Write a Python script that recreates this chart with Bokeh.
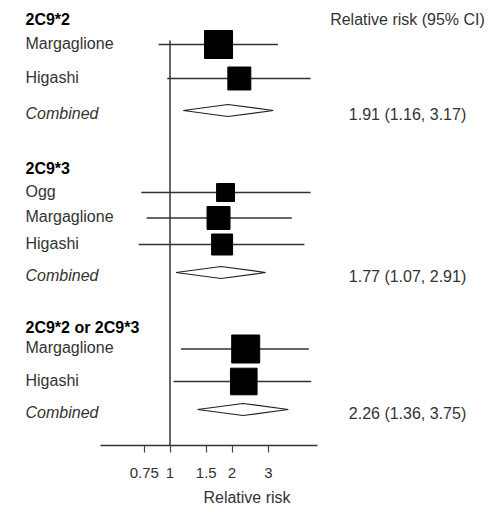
import math
from bokeh.plotting import figure
from bokeh.models import Range1d, LogScale, LogAxis, FixedTicker, ColumnDataSource
from bokeh.core.properties import value
from bokeh.embed import file_html
from bokeh.resources import INLINE

# ---------------- data ----------------
group_names = ["2C9*2", "2C9*3", "2C9*2 or 2C9*3"]
study_group = [0, 0, 1, 1, 1, 2, 2]
study_names = ["Margaglione", "Higashi", "Ogg", "Margaglione", "Higashi", "Margaglione", "Higashi"]
study_rr = [1.72, 2.17, 1.86, 1.72, 1.79, 2.33, 2.28]
study_lo = [0.88, 0.97, 0.725, 0.77, 0.705, 1.13, 1.04]
study_hi = [3.34, 4.81, 4.81, 3.90, 4.49, 4.72, 4.84]
study_weight = [1.0, 0.82, 0.64, 0.82, 0.75, 1.0, 0.95]
combined_rr = [1.91, 1.77, 2.26]
combined_lo = [1.16, 1.07, 1.36]
combined_hi = [3.17, 2.91, 3.75]
tick_values = [0.75, 1, 1.5, 2, 3]
tick_labels = ["0.75", "1", "1.5", "2", "3"]
axis_bounds = [0.46, 5.2]

# ---------------- layout ----------------
W, H = 493, 512
FRAME_H = 445
BOTTOM = H - FRAME_H
ONE_PX = 169.5          # frame x of RR = 1
PX_PER_LN = 89.5        # pixels per natural-log unit
rr_start = math.exp(-ONE_PX / PX_PER_LN)
rr_end = math.exp((W - ONE_PX) / PX_PER_LN)

header_y = [19, 168, 327]
study_y = [44, 78, 192, 217.5, 244, 348.5, 381]
combined_y = [110, 272, 409]
LABEL_X = 25
RIGHT_X = 407
BOX = 28
DIAMOND_HALF = 6
FONT = value("Liberation Sans")
FS = "16px"

p = figure(width=W, height=H, output_backend="svg", toolbar_location=None,
           x_range=Range1d(0, W), y_range=Range1d(FRAME_H, 0),
           x_axis_location=None, y_axis_location=None,
           min_border=0, min_border_bottom=BOTTOM)
p.extra_x_ranges = {"rr": Range1d(rr_start, rr_end)}
p.extra_x_scales = {"rr": LogScale()}
p.outline_line_color = None
p.xgrid.visible = False
p.ygrid.visible = False
p.background_fill_color = "white"
p.border_fill_color = "white"

axis = LogAxis(x_range_name="rr", ticker=FixedTicker(ticks=tick_values, minor_ticks=[]),
               bounds=tuple(axis_bounds), axis_label="Relative risk")
axis.major_label_overrides = {t: l for t, l in zip(tick_values, tick_labels)}
axis.axis_line_color = "#333333"
axis.axis_line_width = 1.5
axis.major_tick_line_color = "#444444"
axis.major_tick_line_width = 1.2
axis.major_tick_in = 0
axis.major_tick_out = 7
axis.major_label_standoff = 15
axis.major_label_text_font = "Liberation Sans"
axis.major_label_text_font_size = "15px"
axis.major_label_text_color = "#333333"
axis.axis_label_standoff = 8
axis.axis_label_text_font = "Liberation Sans"
axis.axis_label_text_font_size = FS
axis.axis_label_text_font_style = "normal"
axis.axis_label_text_color = "#333333"
p.add_layout(axis, "below")

# reference line at RR = 1
p.segment(x0=[1], x1=[1], y0=[study_y[0] - 4], y1=[FRAME_H], x_range_name="rr",
          line_color="#333333", line_width=1.5)

# study CIs and boxes
src = ColumnDataSource(dict(rr=study_rr, lo=study_lo, hi=study_hi, y=study_y,
                            size=[w * BOX for w in study_weight], name=study_names))
p.segment(x0="lo", x1="hi", y0="y", y1="y", source=src, x_range_name="rr",
          line_color="#333333", line_width=1.5)
p.scatter(x="rr", y="y", size="size", marker="square", source=src, x_range_name="rr",
          fill_color="black", line_color="black")

# combined diamonds
xs = [[lo, rr, hi, rr] for rr, lo, hi in zip(combined_rr, combined_lo, combined_hi)]
ys = [[y, y - DIAMOND_HALF, y, y + DIAMOND_HALF] for y in combined_y]
p.patches(xs=xs, ys=ys, x_range_name="rr", fill_color="white",
          line_color="#222222", line_width=1.2)

# texts
p.text(x=[LABEL_X] * 3, y=header_y, text=group_names, text_font=FONT,
       text_font_size=FS, text_font_style="bold", text_color="black",
       text_baseline="middle", text_align="left")
p.text(x=[LABEL_X] * len(study_names), y=[y - 1.5 for y in study_y], text=study_names, text_font=FONT,
       text_font_size=FS, text_color="#333333", text_baseline="middle", text_align="left")
p.text(x=[LABEL_X] * 3, y=[y + 3 for y in combined_y], text=["Combined"] * 3, text_font=FONT,
       text_font_size=FS, text_font_style="italic", text_color="#333333",
       text_baseline="middle", text_align="left")
p.text(x=[RIGHT_X], y=[header_y[0]], text=["Relative risk (95% CI)"], text_font=FONT,
       text_font_size=FS, text_color="#333333", text_baseline="middle", text_align="center")
comb_text = [f"{r:.2f} ({l:.2f}, {h:.2f})" for r, l, h in zip(combined_rr, combined_lo, combined_hi)]
p.text(x=[RIGHT_X] * 3, y=[y + 4 for y in combined_y], text=comb_text, text_font=FONT,
       text_font_size=FS, text_color="#333333", text_baseline="middle", text_align="center")

open("out.html", "w").write(file_html(p, INLINE))
